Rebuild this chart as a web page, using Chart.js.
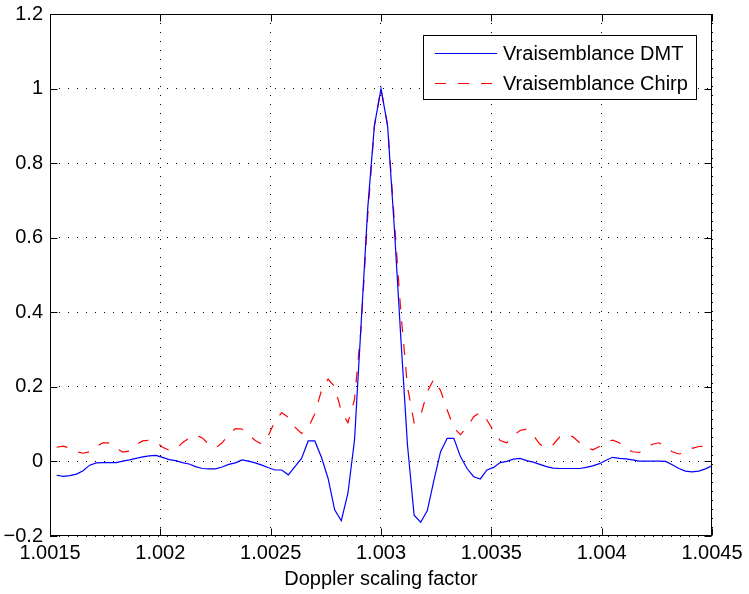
<!DOCTYPE html>
<html>
<head>
<meta charset="utf-8">
<script src="https://cdn.jsdelivr.net/npm/chart.js@4.4.1/dist/chart.umd.min.js"></script>
<style>
    html, body { margin: 0; padding: 0; background: #fff; }
</style>
</head>
<body>
<canvas id="chart" width="749" height="594"></canvas>
<script>
// Facteur Doppler (axe x)
const doppler = [
    1.00153, 1.00156, 1.00159, 1.00162, 1.00165, 1.00168, 1.00171, 1.00174, 1.00177, 1.00180,
    1.00183, 1.00186, 1.00189, 1.00192, 1.00195, 1.00198, 1.00201, 1.00204, 1.00207, 1.00210,
    1.00213, 1.00216, 1.00219, 1.00222, 1.00225, 1.00228, 1.00231, 1.00234, 1.00237, 1.00240,
    1.00243, 1.00246, 1.00249, 1.00252, 1.00255, 1.00258, 1.00261, 1.00264, 1.00267, 1.00270,
    1.00273, 1.00276, 1.00279, 1.00282, 1.00285, 1.00288, 1.00291, 1.00294, 1.00297, 1.00300,
    1.00303, 1.00306, 1.00309, 1.00312, 1.00315, 1.00318, 1.00321, 1.00324, 1.00327, 1.00330,
    1.00333, 1.00336, 1.00339, 1.00342, 1.00345, 1.00348, 1.00351, 1.00354, 1.00357, 1.00360,
    1.00363, 1.00366, 1.00369, 1.00372, 1.00375, 1.00378, 1.00381, 1.00384, 1.00387, 1.00390,
    1.00393, 1.00396, 1.00399, 1.00402, 1.00405, 1.00408, 1.00411, 1.00414, 1.00417, 1.00420,
    1.00423, 1.00426, 1.00429, 1.00432, 1.00435, 1.00438, 1.00441, 1.00444, 1.00447, 1.00450
];

// Vraisemblance DMT
const dmtValues = [
    -0.037, -0.040, -0.038, -0.034, -0.025, -0.010, -0.004, -0.003, -0.003, -0.003,
    0.001, 0.004, 0.008, 0.012, 0.015, 0.016, 0.011, 0.005, 0.002, -0.003,
    -0.007, -0.014, -0.019, -0.020, -0.020, -0.015, -0.008, -0.004, 0.004, 0.001,
    -0.004, -0.010, -0.017, -0.023, -0.023, -0.036, -0.014, 0.008, 0.055, 0.055,
    0.011, -0.045, -0.130, -0.159, -0.086, 0.057, 0.370, 0.680, 0.900, 1.000,
    0.900, 0.630, 0.330, 0.044, -0.144, -0.163, -0.132, -0.050, 0.026, 0.062,
    0.062, 0.013, -0.019, -0.041, -0.047, -0.023, -0.016, -0.003, 0.000, 0.006,
    0.008, 0.002, -0.002, -0.008, -0.014, -0.018, -0.019, -0.019, -0.019, -0.019,
    -0.016, -0.012, -0.006, 0.003, 0.011, 0.008, 0.007, 0.004, 0.001, 0.001,
    0.001, 0.001, 0.000, -0.009, -0.019, -0.026, -0.028, -0.026, -0.020, -0.012
];

// Vraisemblance Chirp
const chirpValues = [
    0.038, 0.041, 0.036, 0.026, 0.022, 0.026, 0.040, 0.050, 0.050, 0.035,
    0.025, 0.028, 0.045, 0.055, 0.057, 0.053, 0.038, 0.030, 0.033, 0.050,
    0.062, 0.072, 0.063, 0.046, 0.036, 0.050, 0.072, 0.088, 0.087, 0.072,
    0.056, 0.046, 0.070, 0.108, 0.131, 0.118, 0.092, 0.075, 0.090, 0.128,
    0.190, 0.221, 0.200, 0.135, 0.104, 0.166, 0.360, 0.660, 0.900, 1.000,
    0.900, 0.650, 0.400, 0.200, 0.104, 0.124, 0.187, 0.221, 0.190, 0.138,
    0.090, 0.072, 0.092, 0.120, 0.132, 0.111, 0.082, 0.056, 0.050, 0.070,
    0.083, 0.087, 0.070, 0.046, 0.036, 0.045, 0.066, 0.073, 0.066, 0.050,
    0.038, 0.031, 0.040, 0.053, 0.057, 0.050, 0.034, 0.026, 0.024, 0.035,
    0.046, 0.050, 0.038, 0.026, 0.020, 0.024, 0.035, 0.040, 0.041, 0.040
];

// Graduations
const xTicks = [1.0015, 1.002, 1.0025, 1.003, 1.0035, 1.004, 1.0045];
const xTickLabels = ["1.0015", "1.002", "1.0025", "1.003", "1.0035", "1.004", "1.0045"];
const yTicks = [-0.2, 0, 0.2, 0.4, 0.6, 0.8, 1, 1.2];
const yTickLabels = ["\u22120.2", "0", "0.2", "0.4", "0.6", "0.8", "1", "1.2"];

const FONT = "'Liberation Sans', Arial, Helvetica, sans-serif";
const chirpDash = [11, 12];

// pas de marge automatique autour des axes : la zone de tracé est fixée par layout.padding
function noAxisPadding(s) {
    s.paddingTop = 0;
    s.paddingBottom = 0;
    s.paddingLeft = 0;
    s.paddingRight = 0;
}

// Cadre, graduations vers l'intérieur et légende façon Matlab
const matlabFrame = {
    id: "matlabFrame",
    afterDraw(chart) {
        const { ctx, chartArea: a, scales } = chart;
        ctx.save();
        ctx.strokeStyle = "#000";
        ctx.lineWidth = 1;
        const L = Math.round(a.left) + 0.5, R = Math.round(a.right) - 0.5;
        const T = Math.round(a.top) + 0.5, B = Math.round(a.bottom) - 0.5;
        ctx.strokeRect(L, T, R - L, B - T);
        ctx.beginPath();
        xTicks.forEach(v => {
            const px = Math.round(scales.x.getPixelForValue(v)) + 0.5;
            ctx.moveTo(px, B); ctx.lineTo(px, B - 7);
            ctx.moveTo(px, T); ctx.lineTo(px, T + 7);
        });
        yTicks.forEach(v => {
            const py = Math.round(scales.y.getPixelForValue(v)) + 0.5;
            ctx.moveTo(L, py); ctx.lineTo(L + 7, py);
            ctx.moveTo(R, py); ctx.lineTo(R - 7, py);
        });
        ctx.stroke();

        // légende
        const bx = 423.5, by = 35.5, bw = 273, bh = 64;
        ctx.fillStyle = "#fff";
        ctx.fillRect(bx, by, bw, bh);
        ctx.strokeRect(bx, by, bw, bh);
        ctx.font = "20px " + FONT;
        ctx.textBaseline = "middle";
        chart.data.datasets.forEach((ds, i) => {
            const ly = Math.round(by + 17 + i * 30) + 0.5;
            ctx.strokeStyle = ds.borderColor;
            ctx.setLineDash(ds.borderDash || []);
            ctx.beginPath();
            ctx.moveTo(435, ly);
            ctx.lineTo(497, ly);
            ctx.stroke();
            ctx.setLineDash([]);
            ctx.fillStyle = "#000";
            ctx.fillText(ds.label, 503, ly + 1);
        });
        ctx.restore();
    }
};

const ctx = document.getElementById("chart").getContext("2d");

new Chart(ctx, {
    type: "line",
    data: {
        datasets: [
            {
                label: "Vraisemblance DMT",
                data: doppler.map((d, i) => ({ x: d, y: dmtValues[i] })),
                borderColor: "#0000ff",
                borderWidth: 1.2,
                pointRadius: 0,
                tension: 0
            },
            {
                label: "Vraisemblance Chirp",
                data: doppler.map((d, i) => ({ x: d, y: chirpValues[i] })),
                borderColor: "#ff0000",
                borderWidth: 1.2,
                borderDash: chirpDash,
                pointRadius: 0,
                tension: 0
            }
        ]
    },
    options: {
        responsive: false,
        animation: false,
        devicePixelRatio: 1,
        layout: { padding: { left: 0, right: 37, top: 14, bottom: 0 } },
        plugins: {
            legend: { display: false },
            tooltip: { enabled: false }
        },
        scales: {
            x: {
                type: "linear",
                min: 1.0015,
                max: 1.0045,
                afterBuildTicks: s => { s.ticks = xTicks.map(v => ({ value: v })); },
                afterFit: s => { s.height = 58; noAxisPadding(s); },
                ticks: {
                    callback: (v, i) => xTickLabels[i],
                    font: { family: FONT, size: 20 },
                    color: "#000",
                    padding: 5,
                    maxRotation: 0,
                    autoSkip: false
                },
                grid: { color: "#000", lineWidth: 1, drawTicks: false },
                border: { display: false, dash: [1, 8] },
                title: {
                    display: true,
                    text: "Doppler scaling factor",
                    font: { family: FONT, size: 20 },
                    color: "#000",
                    padding: { top: 0, bottom: 3 }
                }
            },
            y: {
                type: "linear",
                min: -0.2,
                max: 1.2,
                afterBuildTicks: s => { s.ticks = yTicks.map(v => ({ value: v })); },
                afterFit: s => { s.width = 50; noAxisPadding(s); },
                ticks: {
                    callback: (v, i) => yTickLabels[i],
                    font: { family: FONT, size: 20 },
                    color: "#000",
                    padding: 7,
                    autoSkip: false
                },
                grid: { color: "#000", lineWidth: 1, drawTicks: false },
                border: { display: false, dash: [1, 8] }
            }
        }
    },
    plugins: [matlabFrame]
});
</script>
</body>
</html>
